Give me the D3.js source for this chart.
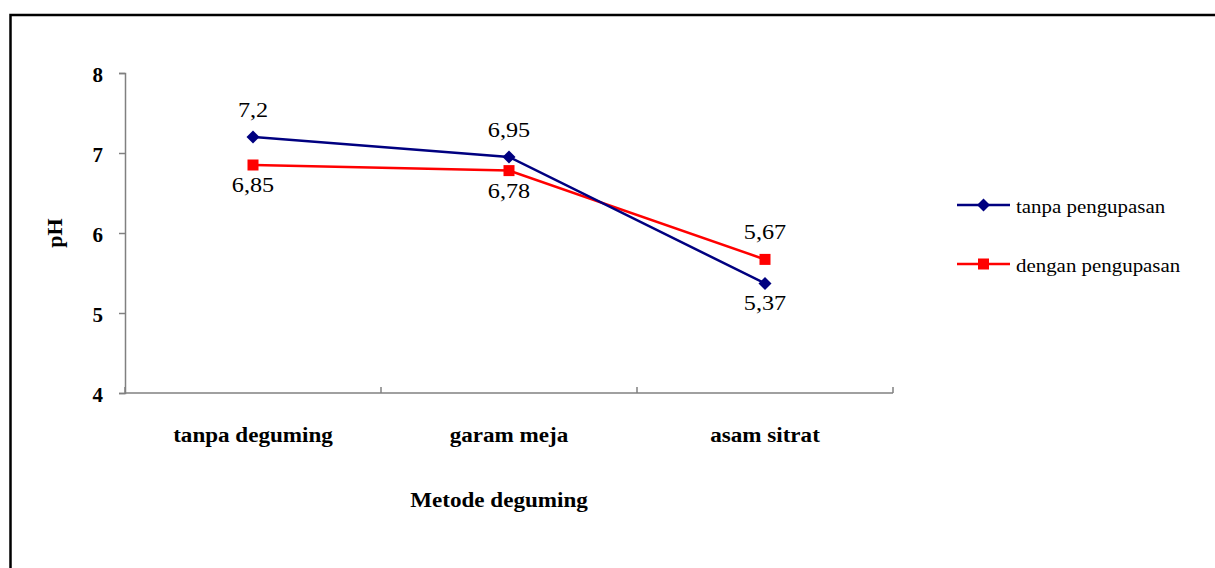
<!DOCTYPE html>
<html>
<head>
<meta charset="utf-8">
<script src="https://cdn.jsdelivr.net/npm/d3@7"></script>
<style>
  html, body { margin: 0; padding: 0; background: #fff; }
  svg { display: block; }
  svg text { font-family: "Liberation Serif", "Times New Roman", Times, serif; }
</style>
</head>
<body>
<svg id="chart" width="1215" height="568"></svg>
<script>
// pH of the oil per degumming method, with and without peeling
const categories = ["tanpa deguming", "garam meja", "asam sitrat"];
const tanpaPengupasan = [7.2, 6.95, 5.37];
const denganPengupasan = [6.85, 6.78, 5.67];
const yTicks = [4, 5, 6, 7, 8];
const seriesNames = ["tanpa pengupasan", "dengan pengupasan"];

const svg = d3.select("#chart");
const W = 1215, H = 568;
const stretch = 1.1;

// outer frame (top and left edges)
svg.append("path")
  .attr("d", `M10.5,${H} L10.5,15 L${W},15`)
  .attr("fill", "none")
  .attr("stroke", "#000")
  .attr("stroke-width", 2.5);

const plot = { left: 125, right: 893, top: 73, bottom: 393 };

const x = d3.scaleBand().domain(categories).range([plot.left, plot.right]).padding(0);
const y = d3.scaleLinear().domain([4, 8]).range([plot.bottom, plot.top]);

// y axis
const yAxis = svg.append("g")
  .attr("transform", `translate(${plot.left},0)`)
  .call(d3.axisLeft(y).tickValues(yTicks).tickSize(6).tickPadding(16).tickFormat(d3.format("d")));
yAxis.attr("font-family", null);
yAxis.select(".domain").attr("stroke", "#808080").attr("stroke-width", 1.5);
yAxis.selectAll(".tick line").attr("stroke", "#808080").attr("stroke-width", 1.5);
yAxis.selectAll(".tick text")
  .attr("fill", "#000")
  .attr("font-size", 21)
  .attr("font-weight", "bold")
  .attr("dy", "0.42em");

// x axis line with tick marks at category boundaries
const xg = svg.append("g");
xg.append("line")
  .attr("x1", plot.left).attr("x2", plot.right)
  .attr("y1", y(4)).attr("y2", y(4))
  .attr("stroke", "#808080").attr("stroke-width", 1.5);
const boundaries = categories.map(c => x(c)).concat([x(categories[categories.length - 1]) + x.bandwidth()]);
xg.selectAll("line.tk").data(boundaries).join("line")
  .attr("class", "tk")
  .attr("x1", d => d).attr("x2", d => d)
  .attr("y1", y(4)).attr("y2", y(4) - 6)
  .attr("stroke", "#808080").attr("stroke-width", 1.5);

// helper: horizontally widened text
function label(g, tx, ty, str, opts) {
  return g.append("text")
    .attr("transform", `translate(${tx},${ty}) scale(${stretch},1)`)
    .attr("text-anchor", opts.anchor || "middle")
    .attr("font-size", opts.size)
    .attr("font-weight", opts.weight || "normal")
    .attr("fill", "#000")
    .text(str);
}

// category labels
categories.forEach(c => {
  label(svg, x(c) + x.bandwidth() / 2, 442, c, { size: 21, weight: "bold" });
});

// axis titles
label(svg, (plot.left + plot.right) / 2 - 10, 507, "Metode deguming", { size: 21, weight: "bold" });
svg.append("text")
  .attr("transform", `translate(62,${(plot.top + plot.bottom) / 2}) rotate(-90)`)
  .attr("text-anchor", "middle")
  .attr("font-size", 22)
  .attr("font-weight", "bold")
  .text("pH");

const cx = c => x(c) + x.bandwidth() / 2;
const series = [
  { name: seriesNames[1], values: denganPengupasan, color: "#FF0000", marker: "square" },
  { name: seriesNames[0], values: tanpaPengupasan, color: "#000080", marker: "diamond" }
];

const line = d3.line().x(d => cx(d.c)).y(d => y(d.v));

function drawMarker(g, px, py, kind, color) {
  if (kind === "square") {
    g.append("rect").attr("x", px - 5.5).attr("y", py - 5.5)
      .attr("width", 11).attr("height", 11).attr("fill", color);
  } else {
    g.append("path")
      .attr("d", `M${px},${py - 6.5} L${px + 6.5},${py} L${px},${py + 6.5} L${px - 6.5},${py} Z`)
      .attr("fill", color);
  }
}

series.forEach(s => {
  const pts = categories.map((c, i) => ({ c, v: s.values[i], i }));
  svg.append("path").datum(pts)
    .attr("d", line)
    .attr("fill", "none")
    .attr("stroke", s.color)
    .attr("stroke-width", 2.5);
  const mg = svg.append("g");
  pts.forEach(p => drawMarker(mg, cx(p.c), y(p.v), s.marker, s.color));
});

// value labels: above the point for the higher series, below for the lower
const lg = svg.append("g");
series.forEach(s => {
  const other = s === series[0] ? series[1] : series[0];
  categories.forEach((c, i) => {
    const v = s.values[i];
    const above = v >= other.values[i];
    const ty = y(v) + (above ? -20 : 27);
    label(lg, cx(c), ty, String(v).replace(".", ","), { size: 22 });
  });
});

// legend
const legendY = [205, 264];
[series[1], series[0]].forEach((s, i) => {
  const ly = legendY[i];
  svg.append("line")
    .attr("x1", 957).attr("x2", 1010)
    .attr("y1", ly).attr("y2", ly)
    .attr("stroke", s.color).attr("stroke-width", 2.5);
  drawMarker(svg, 983.5, ly, s.marker, s.color);
  label(svg, 1016, ly + 8, s.name, { size: 19, anchor: "start" });
});
</script>
</body>
</html>
